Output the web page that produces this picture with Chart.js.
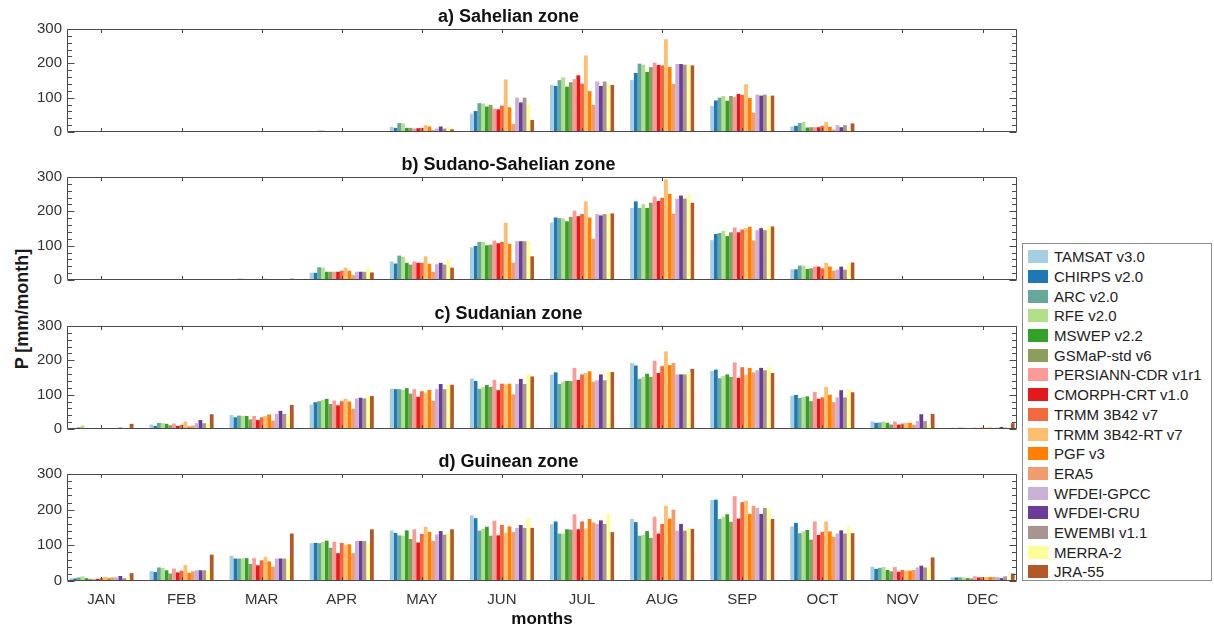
<!DOCTYPE html>
<html>
<head>
<meta charset="utf-8">
<script src="https://cdn.jsdelivr.net/npm/chart.js@4.4.1/dist/chart.umd.min.js"></script>
<style>
  body { margin: 0; background: #fff; width: 1214px; height: 632px; position: relative; overflow: hidden;
         font-family: "Liberation Sans", Arial, Helvetica, sans-serif; }
  canvas.panel { position: absolute; left: 0; }
  #ylabel { position: absolute; left: 22px; top: 309px; transform: translate(-50%, -50%) rotate(-90deg);
            font-weight: bold; font-size: 18px; color: #1a1a1a; white-space: nowrap; }
  #legend { position: absolute; left: 1022px; top: 243px; width: 190px; height: 338px; box-sizing: border-box;
            border: 1px solid #8c8c8c; background: #fff; padding-top: 3px; }
  .item { height: 19.7px; display: flex; align-items: center; font-size: 15px; color: #222; white-space: nowrap; }
  .sw { width: 20px; height: 13px; margin: 0 6px 0 5px; flex: none; }
</style>
</head>
<body>
<div id="ylabel">P [mm/month]</div>
<div id="legend"></div>
<script>
const MONTHS = ['JAN', 'FEB', 'MAR', 'APR', 'MAY', 'JUN', 'JUL', 'AUG', 'SEP', 'OCT', 'NOV', 'DEC'];

const PRODUCTS = ['TAMSAT v3.0', 'CHIRPS v2.0', 'ARC v2.0', 'RFE v2.0', 'MSWEP v2.2', 'GSMaP-std v6',
  'PERSIANN-CDR v1r1', 'CMORPH-CRT v1.0', 'TRMM 3B42 v7', 'TRMM 3B42-RT v7', 'PGF v3', 'ERA5',
  'WFDEI-GPCC', 'WFDEI-CRU', 'EWEMBI v1.1', 'MERRA-2', 'JRA-55'];

const COLORS = ['#a6cee3', '#1f78b4', '#66a99b', '#b2df8a', '#33a02c', '#8c9d5e',
  '#fb9a99', '#e31a1c', '#f06a3e', '#fdbf6f', '#ff7f00', '#f19c6c',
  '#cab2d6', '#6a3d9a', '#a89592', '#ffff99', '#b15928'];

// monthly rainfall (mm/month), one row per product, JAN..DEC
const SAHELIAN = [
  [0.2, 0.3, 0.8, 2, 15, 53, 137, 151, 76, 16, 0.5, 0.2],
  [0.2, 0.3, 0.8, 3, 12, 61, 134, 172, 92, 18, 0.6, 0.2],
  [0.3, 0.5, 1.5, 4, 26, 84, 151, 199, 100, 26, 1, 0.3],
  [0.3, 0.5, 1.5, 5, 25, 83, 159, 196, 105, 29, 1, 0.3],
  [0.2, 0.3, 1, 2, 12, 74, 132, 175, 91, 13, 0.5, 0.2],
  [0.2, 0.3, 1, 2, 12, 79, 145, 189, 105, 14, 0.5, 0.2],
  [0.2, 0.3, 1, 2, 10, 68, 154, 202, 102, 14, 0.5, 0.2],
  [0.2, 0.3, 1, 2, 11, 66, 165, 195, 111, 14, 0.5, 0.2],
  [0.2, 0.3, 1, 2, 12, 77, 141, 194, 108, 18, 0.5, 0.2],
  [0.3, 0.5, 1.5, 3, 20, 153, 223, 270, 139, 29, 0.8, 0.3],
  [0.2, 0.3, 1, 2, 16, 72, 119, 189, 99, 15, 0.5, 0.2],
  [0.1, 0.2, 0.5, 1, 6, 23, 79, 140, 56, 7, 0.3, 0.1],
  [0.2, 0.3, 1, 2, 10, 100, 147, 198, 109, 20, 0.5, 0.2],
  [0.2, 0.3, 1, 3, 16, 86, 134, 198, 106, 14, 0.5, 0.2],
  [0.2, 0.3, 1, 2, 10, 100, 147, 196, 109, 20, 0.5, 0.2],
  [0.2, 0.3, 1, 2, 14, 79, 140, 195, 105, 9, 0.5, 0.2],
  [0.1, 0.2, 0.5, 1, 8, 35, 137, 194, 106, 25, 0.3, 0.1]
];

const SUDANO_SAHELIAN = [
  [0.2, 0.5, 2, 21, 54, 95, 167, 210, 116, 31, 1, 0.2],
  [0.2, 0.5, 2, 21, 48, 99, 182, 229, 134, 31, 1, 0.2],
  [0.3, 0.8, 4, 37, 71, 111, 180, 210, 137, 42, 2, 0.3],
  [0.3, 0.8, 4, 36, 68, 111, 179, 221, 143, 42, 2, 0.3],
  [0.2, 0.5, 2, 24, 50, 101, 171, 210, 128, 32, 1, 0.2],
  [0.2, 0.5, 2, 24, 45, 103, 184, 225, 139, 34, 1, 0.2],
  [0.2, 0.5, 3, 24, 54, 115, 202, 243, 153, 39, 1, 0.2],
  [0.2, 0.5, 2, 24, 50, 107, 186, 230, 139, 39, 1, 0.2],
  [0.2, 0.5, 3, 27, 50, 111, 192, 239, 147, 34, 1, 0.2],
  [0.3, 3, 4, 36, 69, 167, 229, 293, 151, 50, 2, 0.3],
  [0.2, 0.5, 2, 27, 47, 105, 182, 251, 155, 39, 1, 0.2],
  [0.1, 0.3, 1, 14, 24, 50, 120, 193, 115, 27, 0.5, 0.1],
  [0.2, 0.5, 2, 24, 46, 113, 192, 237, 145, 30, 1, 0.2],
  [0.2, 0.5, 3, 24, 50, 113, 188, 246, 151, 39, 1.5, 0.2],
  [0.2, 0.5, 2, 24, 45, 113, 192, 237, 145, 30, 1, 0.2],
  [0.2, 0.5, 2, 33, 61, 113, 193, 249, 158, 49, 1, 0.2],
  [0.2, 0.5, 4, 22, 36, 69, 194, 225, 156, 51, 1.5, 0.2]
];

const SUDANIAN = [
  [3, 13, 41, 71, 117, 147, 158, 192, 169, 97, 22, 4],
  [2, 9, 34, 78, 116, 140, 165, 185, 173, 99, 18, 3],
  [5, 18, 39, 81, 116, 117, 131, 146, 148, 90, 19, 4],
  [10, 17, 38, 85, 114, 122, 138, 152, 155, 93, 22, 4],
  [3, 15, 38, 88, 119, 128, 140, 161, 159, 95, 18, 3],
  [3, 11, 28, 73, 103, 123, 140, 152, 152, 81, 13, 3],
  [2, 16, 38, 83, 116, 143, 178, 199, 194, 108, 22, 4],
  [2, 9, 26, 69, 94, 113, 143, 163, 149, 88, 13, 3],
  [2, 12, 34, 81, 110, 132, 159, 183, 180, 92, 16, 4],
  [3, 22, 38, 88, 106, 130, 163, 226, 158, 123, 18, 4],
  [2, 7, 42, 80, 114, 132, 168, 186, 178, 100, 18, 4],
  [2, 10, 24, 59, 82, 101, 138, 192, 165, 78, 12, 3],
  [3, 17, 44, 89, 116, 131, 142, 159, 171, 92, 23, 4],
  [4, 26, 53, 91, 131, 146, 159, 159, 178, 113, 43, 6],
  [3, 17, 44, 89, 116, 131, 142, 159, 171, 92, 23, 4],
  [2, 17, 44, 94, 129, 160, 170, 166, 181, 117, 11, 3],
  [15, 43, 70, 96, 129, 153, 166, 175, 163, 107, 44, 17]
];

const GUINEAN = [
  [8, 28, 71, 106, 141, 184, 159, 174, 227, 153, 40, 10],
  [7, 25, 63, 107, 135, 176, 167, 165, 228, 163, 34, 10],
  [10, 38, 63, 106, 128, 141, 133, 127, 174, 134, 37, 10],
  [13, 37, 63, 109, 127, 146, 133, 129, 180, 139, 39, 10],
  [8, 30, 64, 113, 142, 152, 145, 140, 187, 143, 31, 8],
  [6, 21, 48, 93, 118, 127, 144, 121, 166, 116, 27, 7],
  [6, 35, 64, 110, 145, 169, 187, 180, 238, 167, 39, 13],
  [6, 24, 44, 78, 108, 128, 145, 133, 175, 129, 26, 10],
  [8, 29, 58, 107, 132, 157, 167, 160, 221, 138, 31, 11],
  [12, 45, 68, 101, 152, 135, 147, 211, 225, 167, 29, 11],
  [8, 23, 55, 103, 138, 153, 174, 175, 188, 139, 29, 11],
  [10, 27, 40, 78, 112, 137, 164, 200, 211, 124, 31, 11],
  [10, 30, 63, 112, 130, 149, 160, 141, 205, 133, 38, 11],
  [14, 30, 63, 112, 140, 157, 170, 160, 188, 142, 43, 8],
  [8, 30, 63, 112, 130, 149, 160, 141, 205, 133, 38, 13],
  [10, 30, 63, 106, 136, 175, 187, 149, 202, 153, 39, 6],
  [22, 74, 133, 145, 145, 149, 137, 146, 174, 134, 66, 21]
];

const PANELS = [
  { title: 'a) Sahelian zone', rows: SAHELIAN, top: 29 },
  { title: 'b) Sudano-Sahelian zone', rows: SUDANO_SAHELIAN, top: 177 },
  { title: 'c) Sudanian zone', rows: SUDANIAN, top: 326 },
  { title: 'd) Guinean zone', rows: GUINEAN, top: 474 }
];

const FONT = '"Liberation Sans", Arial, Helvetica, sans-serif';
const AXIS_COLOR = '#4a4a4a';
const TEXT_COLOR = '#333';
const PLOT_H = 107;
const HEAD = 29;     // title block above each plot box
const Y_MAX = 300;

// box around the axes with inward ticks on all four sides
const framePlugin = {
  id: 'frame',
  afterDraw(chart) {
    const { ctx, chartArea: a, scales: { x, y } } = chart;
    const L = Math.round(a.left) + 0.5, R = Math.round(a.right) - 0.5;
    const T = Math.round(a.top) + 0.5, B = Math.round(a.bottom) - 0.5;
    ctx.save();
    ctx.strokeStyle = AXIS_COLOR;
    ctx.lineWidth = 1;
    ctx.beginPath();
    ctx.rect(L, T, R - L, B - T);
    x.ticks.forEach(t => {
      const px = Math.round(x.getPixelForValue(t.value)) + 0.5;
      ctx.moveTo(px, B); ctx.lineTo(px, B - 3.5);
      ctx.moveTo(px, T); ctx.lineTo(px, T + 3.5);
    });
    for (let v = 0; v <= Y_MAX; v += 20) {
      const py = Math.round(y.getPixelForValue(v)) + 0.5;
      const len = v % 100 === 0 ? 7 : 4.5;
      ctx.moveTo(L, py); ctx.lineTo(L + len, py);
      ctx.moveTo(R, py); ctx.lineTo(R - len, py);
    }
    ctx.stroke();
    ctx.restore();
  }
};

PANELS.forEach((p, k) => {
  const last = k === PANELS.length - 1;
  const cv = document.createElement('canvas');
  cv.className = 'panel';
  cv.width = 1020;
  cv.height = last ? 632 - (p.top - HEAD) : HEAD + PLOT_H + 10;
  cv.style.top = (p.top - HEAD) + 'px';
  document.body.appendChild(cv);

  new Chart(cv.getContext('2d'), {
    type: 'bar',
    data: {
      datasets: PRODUCTS.map((name, j) => ({
        label: name,
        data: p.rows[j].map((v, i) => ({ x: i + 1, y: v })),
        backgroundColor: COLORS[j],
        borderWidth: 0,
        barPercentage: 1,
        categoryPercentage: 0.8
      }))
    },
    options: {
      responsive: false,
      animation: false,
      devicePixelRatio: 1,
      layout: { padding: { top: 6, right: 3, left: 0, bottom: 0 } },
      plugins: {
        legend: { display: false },
        tooltip: { enabled: false },
        title: {
          display: true, text: p.title, color: '#111',
          font: { family: FONT, size: 18, weight: 'bold' },
          padding: { top: 0, bottom: 1.4 }
        }
      },
      scales: {
        x: {
          type: 'linear', min: 0.57, max: 12.43, offset: false,
          grid: { display: false, drawTicks: false },
          border: { display: false },
          afterBuildTicks: s => { s.ticks = MONTHS.map((m, i) => ({ value: i + 1 })); },
          afterFit: s => { s.height = last ? 51 : 10; },
          ticks: {
            display: last, autoSkip: false, maxRotation: 0, padding: 10,
            color: TEXT_COLOR, font: { family: FONT, size: 15 },
            callback: v => MONTHS[v - 1]
          },
          title: {
            display: last, text: 'months', color: '#111',
            font: { family: FONT, size: 17, weight: 'bold' },
            padding: { top: 2, bottom: 2 }
          }
        },
        y: {
          min: 0, max: Y_MAX,
          grid: { display: false, drawTicks: false },
          border: { display: false },
          afterFit: s => { s.width = 67; },
          ticks: { stepSize: 100, padding: 5, color: TEXT_COLOR, font: { family: FONT, size: 15 } }
        }
      }
    },
    plugins: [framePlugin]
  });
});

// legend box
const legend = document.getElementById('legend');
PRODUCTS.forEach((name, j) => {
  const row = document.createElement('div');
  row.className = 'item';
  row.innerHTML = `<span class="sw" style="background:${COLORS[j]}"></span>${name}`;
  legend.appendChild(row);
});
</script>
</body>
</html>
